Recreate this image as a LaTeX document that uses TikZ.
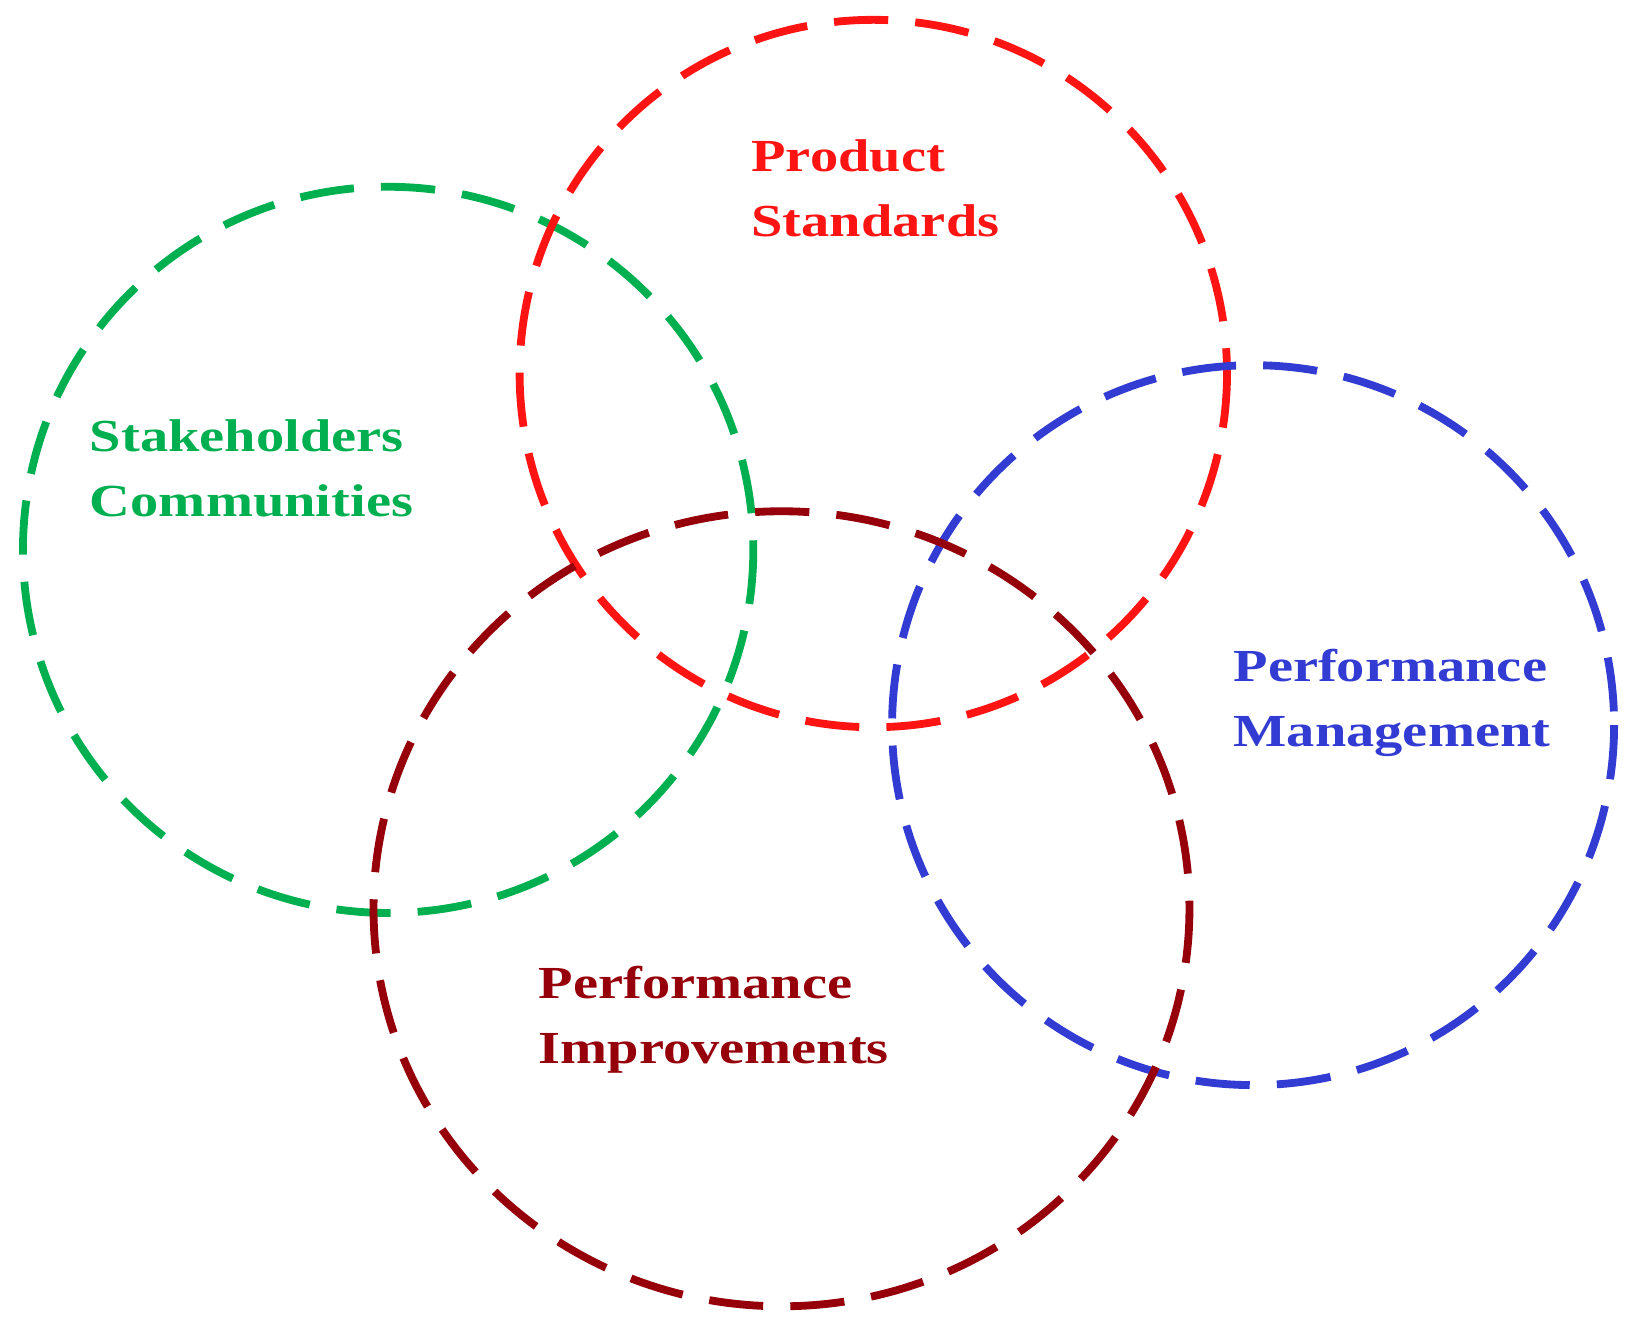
\documentclass[tikz,border=0pt]{standalone}
\usepackage{fontspec}
\setmainfont{Liberation Serif}
\definecolor{cg}{RGB}{0,176,80}
\definecolor{cr}{RGB}{255,20,20}
\definecolor{cb}{RGB}{50,60,210}
\definecolor{cd}{RGB}{150,0,10}
\tikzset{ring/.style={line width=7.5pt,dash pattern=on 52pt off 26pt},
lbl/.style={font=\fontsize{44}{62}\selectfont\bfseries,align=left,anchor=north west,inner sep=0pt,xscale=1.23,transform shape}}
\begin{document}
\begin{tikzpicture}[x=1pt,y=-1pt]
\useasboundingbox (0,0) rectangle (1568,1280);
\draw[ring,cg] (372,527) ellipse [x radius=350,y radius=348];
\draw[ring,cr] (837,358) ellipse [x radius=339,y radius=339];
\draw[ring,cb] (1201,695) ellipse [x radius=346,y radius=345];
\draw[ring,cd] (749,871) ellipse [x radius=391,y radius=381];
\node[lbl,text=cr] (ps) at (720,134) {Product\\Standards};
\node[lbl,text=cg] (sc) at (86,402) {Stakeholders\\Communities};
\node[lbl,text=cb] (pm) at (1182,622) {Performance\\Management};
\node[lbl,text=cd] (pi) at (516,926) {Performance\\Improvements};
\end{tikzpicture}
\end{document}
